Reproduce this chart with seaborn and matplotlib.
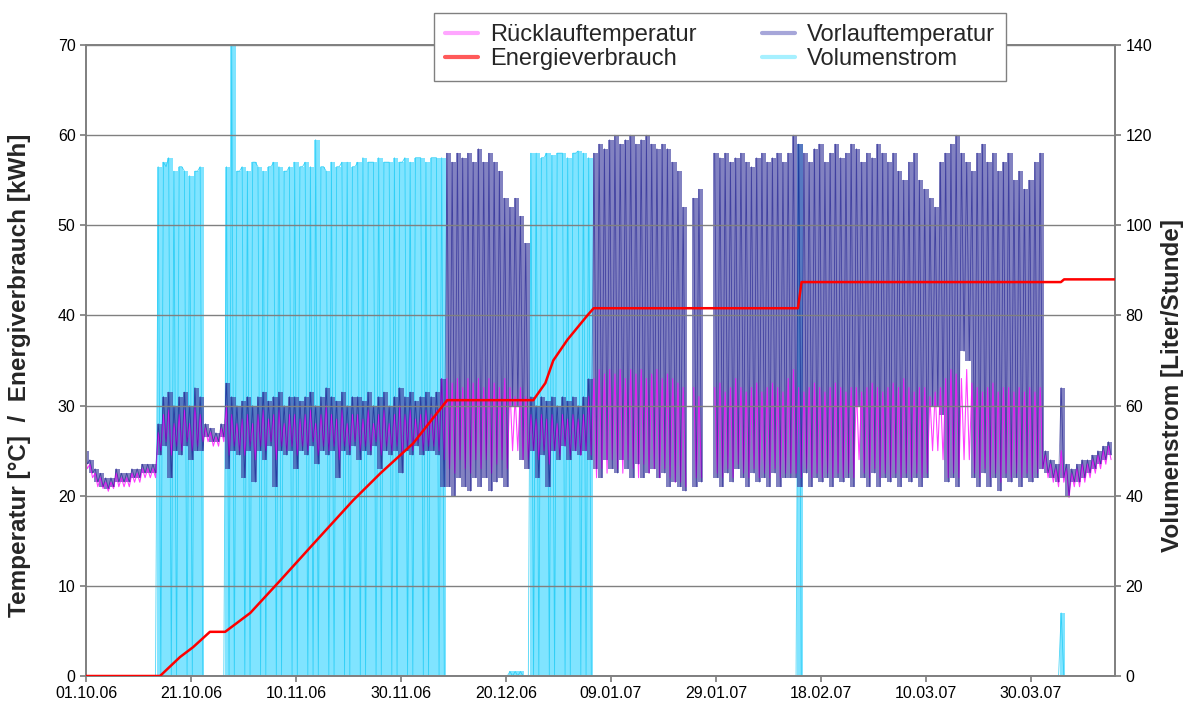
import numpy as np
import matplotlib
matplotlib.use("Agg")
import matplotlib.pyplot as plt
from matplotlib.lines import Line2D
import seaborn as sns

sns.set_theme(style="white")
plt.rcParams['font.family'] = ['Liberation Sans', 'DejaVu Sans']

nan = np.nan

## Tage ab 01.10.06, Tagesmaxima / Tagesminima
tage = np.arange(196)
tick_tage = [0, 20, 40, 60, 80, 100, 120, 140, 160, 180]
tick_labels = ['01.10.06', '21.10.06', '10.11.06', '30.11.06', '20.12.06',
               '09.01.07', '29.01.07', '18.02.07', '10.03.07', '30.03.07']

## Vorlauftemperatur [°C]
vl_hi = np.array([
    25, 24, 23, 22.5, 22, 22, 23, 22.5, 22.5, 23, 23, 23.5, 23.5, 23.5,
    28, 31, 31.5, 30, 31, 31.5, 30, 32, 31, 28,
    27.5, 27, 28, 32.5, 31, 30, 30.5, 31, 30, 31,
    31.5, 30.5, 31, 31.5, 30, 31, 31, 30.5, 31, 31.5,
    30, 31, 32, 31, 30.5, 31.5, 30, 31, 31, 30.5,
    31.5, 30, 31, 31.5, 30, 31, 32, 31, 31.5, 30.5,
    31, 31.5, 31, 31.5, 33,
    58, 57, 58, 57.5, 58, 57, 58.5, 57, 58, 57, 56, 53, 52, 53, 51, 48,
    31, 30, 31, 30.5, 31, 30, 31, 30.5, 31, 30, 31, 33,
    58, 59, 58.5, 59.5, 60, 59, 59.5, 60, 59, 59.5, 60, 59, 58.5, 59, 58.5, 57, 56, 52,
    nan, 53, 54, nan, nan,
    58, 57.5, 58, 57, 57.5, 58, 57, 56.5, 57.5, 58,
    57, 57.5, 58, 57, 58, 60, 59, 58, 57, 58.5,
    59, 57, 58, 59, 57.5, 58, 59, 58.5, 57, 58,
    57.5, 59, 58, 57, 58, 56, 55, 57, 58, 55,
    54, 53, 52, 57, 58, 59, 60, 58, 57, 56,
    58, 59, 57, 58, 56, 57, 58, 55, 56, 54,
    55, 57, 58,
    25, 24, 23.5, 32, 23.5, 23, 23.5, 24, 24, 24.5, 25, 25.5, 26,
])
vl_lo = np.array([
    23.5, 22.5, 21.5, 21, 20.8, 21, 21.5, 21.5, 21.5, 22, 22, 22.5, 22.5, 22.5,
    24.5, 25.5, 22, 25, 24.5, 25.5, 24, 25, 25, 26.5,
    26, 26, 26.5, 23, 25, 24.5, 22, 25, 21.5, 25,
    24, 25.5, 21, 25, 24.5, 25, 23, 25, 24.5, 25.5,
    23.5, 25, 24.5, 25, 22, 25, 24.5, 25.5, 24, 25,
    24.5, 25.5, 23, 25, 24.5, 25, 22.5, 25, 24.5, 25.5,
    24.5, 25, 25, 24.5, 21,
    21, 20, 22, 21, 20.5, 22, 21, 22, 20.5, 21.5, 22, 21, 30, 30, 24, 23,
    25, 22, 24.5, 21, 25, 24, 25.5, 24, 25, 24.5, 25, 24,
    23, 22, 24, 23, 22.5, 24, 23, 22, 23.5, 22, 22.5, 23, 22, 22.5, 21, 21.5, 21, 20.5,
    nan, 21, 21.5, nan, nan,
    22, 21, 22.5, 21.5, 23, 22, 21, 22.5, 21.5, 22,
    21, 22.5, 21, 22, 22, 22, 21, 22.5, 21, 22,
    21.5, 22, 21, 22, 21.5, 22, 21, 30, 22, 21,
    22.5, 21, 22, 21.5, 22, 21, 22, 21.5, 22, 21,
    22, 30, 30, 29, 21.5, 22, 21, 36, 35, 22,
    21, 22.5, 21, 22, 20.5, 22, 21.5, 22, 21, 22,
    21.5, 22, 23,
    22.5, 22, 21.5, 22, 20, 21.5, 21.5, 22, 22.5, 23, 23.5, 24, 24.5,
])

## Rücklauftemperatur [°C]
rl_hi = np.array([
    24.5, 23.5, 22.5, 22, 21.5, 21.5, 22.5, 22, 22, 22.5, 22.5, 23, 23, 23,
    27, 29, 29.5, 28, 29, 29.5, 28, 30, 29, 27.5,
    27, 26.5, 27.5, 30, 29, 28, 28.5, 29, 28, 29,
    29.5, 28.5, 29, 29.5, 28, 29, 29, 28.5, 29, 29.5,
    28, 29, 30, 29, 28.5, 29.5, 28, 29, 29, 28.5,
    29.5, 28, 29, 29.5, 28, 29, 30, 29, 29.5, 28.5,
    29, 29.5, 29, 29.5, 33,
    33, 32.5, 33, 32, 33, 32.5, 33, 32, 33, 32.5, 32, 33, 32, 31, 32, 31,
    29, 28.5, 29, 28.5, 29, 28, 29, 28.5, 29, 28.5, 29, 31,
    33, 34, 33.5, 34, 33.5, 34, 33, 34, 33.5, 34, 33, 33.5, 34, 33, 33.5, 33, 32.5, 32,
    nan, 32, 31, nan, nan,
    32, 32.5, 31.5, 32, 33, 32, 31.5, 32, 32.5, 31.5,
    32, 32.5, 32, 31.5, 33, 34, 32, 31.5, 32, 32.5,
    32, 31.5, 32, 32.5, 32, 31.5, 32, 32, 31.5, 32,
    32.5, 32, 31.5, 32, 32.5, 32, 33, 32, 31.5, 32,
    32, 31, 31.5, 32, 33, 34, 33.5, 33, 34, 32.5,
    32, 31.5, 32, 32.5, 31.5, 32, 32, 31.5, 32, 31.5,
    32, 31.5, 32,
    24.5, 23.5, 23, 25, 23, 22.5, 23, 23.5, 23.5, 24, 24.5, 25, 25.5,
])
rl_lo = np.array([
    23, 22, 21, 20.8, 20.5, 20.8, 21, 21, 21, 21.5, 21.5, 22, 22, 22,
    25, 26, 24.5, 25.5, 25, 26, 25, 25.5, 26, 26,
    25.5, 25.5, 26, 24.5, 25.5, 25, 24.5, 25.5, 24, 25.5,
    25, 26, 24, 25.5, 25, 25.5, 24.5, 25.5, 25, 26,
    24.5, 25.5, 25, 25.5, 24, 25.5, 25, 26, 25, 25.5,
    25, 26, 24.5, 25.5, 25, 25.5, 24.5, 25.5, 25, 26,
    25, 25.5, 25.5, 25, 24,
    23, 22.5, 24, 23, 22.5, 24, 23, 24, 22.5, 23.5, 24, 23, 25, 25, 24, 24,
    25, 24, 25, 23.5, 25, 24.5, 25.5, 24.5, 25, 24.5, 25, 24.5,
    22, 23, 22.5, 24, 23, 22.5, 24, 23, 22, 23.5, 22.5, 23, 22, 23, 22, 21.5, 21.5, 21,
    nan, 22, 22, nan, nan,
    22.5, 22, 23, 22, 23.5, 22.5, 22, 23, 22, 22.5,
    22, 23, 22, 22.5, 22.5, 22.5, 22, 23, 22, 22.5,
    22, 22.5, 22, 22.5, 22, 22.5, 22, 24, 22.5, 22,
    23, 22, 22.5, 22, 22.5, 22, 22.5, 22, 22.5, 22,
    22.5, 25, 25, 24, 22, 22.5, 22, 24, 24, 22.5,
    22, 23, 22, 22.5, 21.5, 22.5, 22, 22.5, 22, 22.5,
    22, 22.5, 23,
    22, 21.5, 21, 21.5, 19.8, 21, 21, 21.5, 22, 22.5, 23, 23.5, 24,
])

## Volumenstrom [Liter/Stunde]
vs_hi = np.array([
    0, 0, 0, 0, 0, 0, 0, 0, 0, 0, 0, 0, 0, 0,
    113, 114, 115, 112, 113, 112, 111, 112, 113, 0,
    0, 0, 0, 113, 140, 112, 113, 112, 114, 113,
    112, 113, 114, 113, 112, 113, 114, 113, 114, 113,
    119, 113, 112, 114, 113, 114, 114, 113, 114, 115,
    114, 114, 115, 114, 114, 115, 114, 115, 114, 115,
    115, 114, 115, 115, 115,
    0, 0, 0, 0, 0, 0, 0, 0, 0, 0, 0, 0, 1, 1, 1, 0,
    116, 116, 115, 116, 115.5, 116, 116, 115, 116, 116.5, 116, 115,
    0, 0, 0, 0, 0, 0, 0, 0, 0, 0, 0, 0, 0, 0, 0, 0, 0, 0,
    0, 0, 0, 0, 0,
    0, 0, 0, 0, 0, 0, 0, 0, 0, 0,
    0, 0, 0, 0, 0, 0, 118, 0, 0, 0,
    0, 0, 0, 0, 0, 0, 0, 0, 0, 0,
    0, 0, 0, 0, 0, 0, 0, 0, 0, 0,
    0, 0, 0, 0, 0, 0, 0, 0, 0, 0,
    0, 0, 0, 0, 0, 0, 0, 0, 0, 0,
    0, 0, 0,
    0, 0, 0, 14, 0, 0, 0, 0, 0, 0, 0, 0, 0,
])
vs_lo = np.array([
    0, 0, 0, 0, 0, 0, 0, 0, 0, 0, 0, 0, 0, 0,
    0, 113, 0, 0, 113, 0, 0, 112, 0, 0,
    0, 0, 0, 0, 0, 112, 0, 0, 114, 0,
    0, 113, 0, 0, 112, 0, 0, 113, 0, 0,
    0, 113, 0, 0, 113, 0, 0, 113, 0, 0,
    114, 0, 0, 114, 0, 0, 114, 0, 0, 115,
    0, 0, 115, 0, 0,
    0, 0, 0, 0, 0, 0, 0, 0, 0, 0, 0, 0, 0, 0, 0, 0,
    0, 0, 115, 0, 0, 116, 0, 0, 116, 0, 0, 0,
] + [0] * 99)

## Energieverbrauch [kWh], Knickpunkte der Kurve
en_tag = [0, 14.1, 17.9, 20.4, 23.6, 26.5, 31.3, 37.0, 44.0, 50.9, 56.1, 62.3, 68.8,
          85.2, 87.5, 89.0, 91.7, 95.5, 96.7, 135.6, 136.3, 185.7, 186.3, 196.2]
en_kwh = [0, 0, 2.1, 3.2, 4.9, 4.9, 7.0, 10.6, 15.1, 19.5, 22.5, 25.8, 30.6,
          30.6, 32.5, 35.0, 37.3, 40.0, 40.8, 40.8, 43.7, 43.7, 44.0, 44.0]

for arr in (vl_hi, vl_lo, rl_hi, rl_lo, vs_hi, vs_lo):
    assert len(arr) == len(tage), len(arr)


def zickzack(hi, lo):
    # Tagesmaximum kurz vor, Tagesminimum kurz nach der Tagesmitte
    x = np.repeat(tage, 2).astype(float)
    x[0::2] -= 0.25
    x[1::2] += 0.25
    y = np.empty(x.size)
    y[0::2] = hi
    y[1::2] = lo
    return x, y


fig = plt.figure(figsize=(11.9, 7.15), dpi=100)
ax = fig.add_axes([86 / 1190, 1 - 676 / 715, 1029 / 1190, 631 / 715])
ax2 = ax.twinx()
ax.set_zorder(ax2.get_zorder() + 1)
ax.patch.set_visible(False)

## Volumenstrom (rechte Achse)
ax2.bar(tage, vs_hi, width=1.0, color='#80e4ff', linewidth=0)
x, y = zickzack(vs_hi, vs_lo)
ax2.plot(x, y, color='#1ccaf4', lw=0.6, alpha=0.8)

## Temperaturen
ax.bar(tage, vl_hi - vl_lo, bottom=vl_lo, width=1.0, color='#4040a0', alpha=0.65, linewidth=0)
x, y = zickzack(rl_hi, rl_lo)
ax.plot(x, y, color='#ff00ff', lw=0.8, alpha=0.75)
x, y = zickzack(vl_hi, vl_lo)
ax.plot(x, y, color='#000080', lw=0.6, alpha=0.5)

## Energie
sns.lineplot(x=en_tag, y=en_kwh, color='#ff0000', lw=1.8, ax=ax, zorder=5)

ax.set_xlim(0, 196)
ax.set_ylim(0, 70)
ax.set_yticks(range(0, 71, 10))
ax2.set_ylim(0, 140)
ax2.set_yticks(range(0, 141, 20))
ax.set_xticks(tick_tage)
ax.set_xticklabels(tick_labels)

ax.set_axisbelow(False)
ax.yaxis.grid(True, color='#808080', lw=1)
ax.xaxis.grid(False)
ax2.grid(False)

for a in (ax, ax2):
    for s in a.spines.values():
        s.set_color('#808080')
ax.tick_params(axis='both', labelsize=11.5, colors='black', length=4, color='#808080',
               bottom=True, left=True)
ax2.tick_params(axis='y', labelsize=11.5, colors='black', length=4, color='#808080', right=True)

ax.set_ylabel('Temperatur [°C]  /  Energiverbrauch [kWh]', fontsize=17.5, fontweight='bold')
ax.yaxis.set_label_coords(-0.0535, 0.477)
ax2.set_ylabel('Volumenstrom [Liter/Stunde]', fontsize=17.5, fontweight='bold', rotation=90)
ax2.yaxis.set_label_coords(1.045, 0.46)

handles = [Line2D([], [], color='#ffa6ff', lw=3), Line2D([], [], color='#ff5a5a', lw=3),
           Line2D([], [], color='#a6a6d9', lw=3), Line2D([], [], color='#a6f0ff', lw=3)]
labels = ['Rücklauftemperatur', 'Energieverbrauch', 'Vorlauftemperatur', 'Volumenstrom']
leg = ax.legend(handles, labels, ncol=2, loc='center', bbox_to_anchor=(0.605, 0.934),
                bbox_transform=fig.transFigure, fontsize=17, frameon=True, fancybox=False,
                framealpha=1, edgecolor='#808080', handlelength=1.4, handletextpad=0.5,
                columnspacing=2.8, borderpad=0.45, labelspacing=0.1)
leg.get_frame().set_linewidth(1.0)

fig.savefig('out.png', dpi=100)
